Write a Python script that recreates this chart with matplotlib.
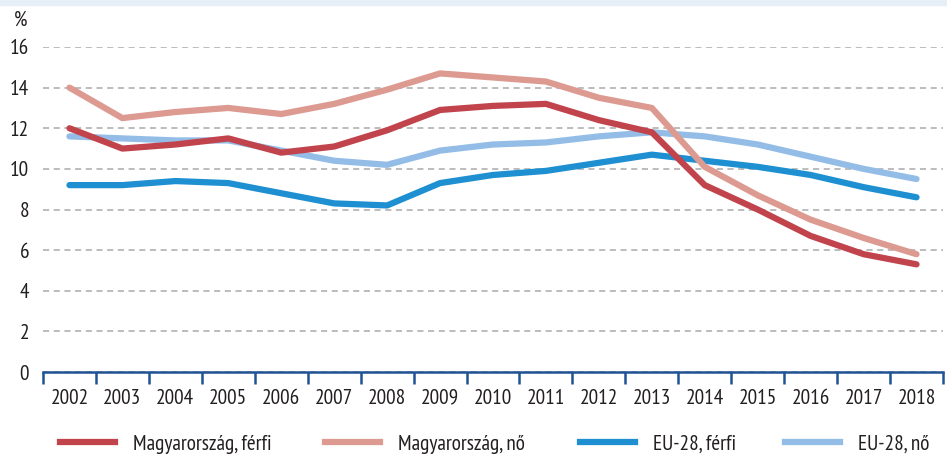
import matplotlib
matplotlib.use("Agg")
import matplotlib.pyplot as plt
from matplotlib.lines import Line2D
from matplotlib.patches import Rectangle

plt.rcParams['font.family'] = ['PT Sans Narrow', 'DejaVu Sans']

years = [str(y) for y in range(2002, 2019)]
hu_ferfi = [12.0, 11.0, 11.2, 11.5, 10.8, 11.1, 11.9, 12.9, 13.1, 13.2,
            12.4, 11.8, 9.2, 8.0, 6.7, 5.8, 5.3]
hu_no = [14.0, 12.5, 12.8, 13.0, 12.7, 13.2, 13.9, 14.7, 14.5, 14.3,
         13.5, 13.0, 10.1, 8.7, 7.5, 6.6, 5.8]
eu_ferfi = [9.2, 9.2, 9.4, 9.3, 8.8, 8.3, 8.2, 9.3, 9.7, 9.9,
            10.3, 10.7, 10.4, 10.1, 9.7, 9.1, 8.6]
eu_no = [11.6, 11.5, 11.4, 11.4, 10.9, 10.4, 10.2, 10.9, 11.2, 11.3,
         11.6, 11.8, 11.6, 11.2, 10.6, 10.0, 9.5]
labels = ['Magyarország, férfi', 'Magyarország, nő', 'EU-28, férfi', 'EU-28, nő']
colors = ['#c1444d', '#dc9a91', '#1e8fd1', '#93bde6']
yticks = [0, 2, 4, 6, 8, 10, 12, 14, 16]

FS = 15.3
TXT = '#231f20'
px = FS * 100 / 72  # font size in pixels

fig = plt.figure(figsize=(9.47, 4.57), dpi=100)
# thin light band at the very top
fig.patches.append(Rectangle((0, 0.99), 1, 0.01, transform=fig.transFigure,
                             color='#e6eff8', zorder=0))
ax = fig.add_axes([43 / 947, 1 - 372 / 457, 900 / 947, (372 - 47) / 457])

x = list(range(len(years)))
# light lines first, darker Hungarian lines on top
order = [(eu_no, colors[3]), (eu_ferfi, colors[2]), (hu_no, colors[1]), (hu_ferfi, colors[0])]
for series, c in order:
    ax.plot(x, series, color=c, lw=4.5, solid_capstyle='round',
            solid_joinstyle='round', zorder=3)

ax.set_xlim(-0.5, len(years) - 0.5)
ax.set_ylim(0, 16)
ax.set_yticks(yticks)
ax.set_yticklabels([str(t) for t in yticks], fontsize=FS, color=TXT)
ax.tick_params(axis='y', length=0, pad=10)
ax.yaxis.grid(True, color='#aaaaaa', ls=(0, (4, 3)), lw=1.1)
ax.set_axisbelow(True)

ax.set_xticks(x)
ax.set_xticklabels(years, fontsize=FS, color=TXT)
ax.set_xticks([i - 0.5 for i in range(len(years) + 1)], minor=True)
ax.tick_params(axis='x', which='major', length=0, pad=12)
ax.tick_params(axis='x', which='minor', length=8.5, width=1.8,
               color='#1f5394', direction='out')

for s in ['top', 'right', 'left']:
    ax.spines[s].set_visible(False)
ax.spines['bottom'].set_color('#1f5394')
ax.spines['bottom'].set_linewidth(1.8)

fig.text(21 / 947, 1 - 20 / 457, '%', fontsize=FS, color=TXT,
         ha='center', va='center')

# legend: one entry per slot, like the reference
slots = [60, 325, 580, 785]
for lab, c, xs in zip(labels, colors, slots):
    h = Line2D([0], [0], color=c, lw=4.5)
    leg = fig.legend([h], [lab], loc='center left',
                     bbox_to_anchor=(xs / 947, 1 - 444 / 457),
                     frameon=False, fontsize=FS, handlelength=55 / px,
                     handletextpad=18 / px, borderpad=0, borderaxespad=0)
    for t in leg.get_texts():
        t.set_color(TXT)

fig.savefig('out.png', dpi=100)
